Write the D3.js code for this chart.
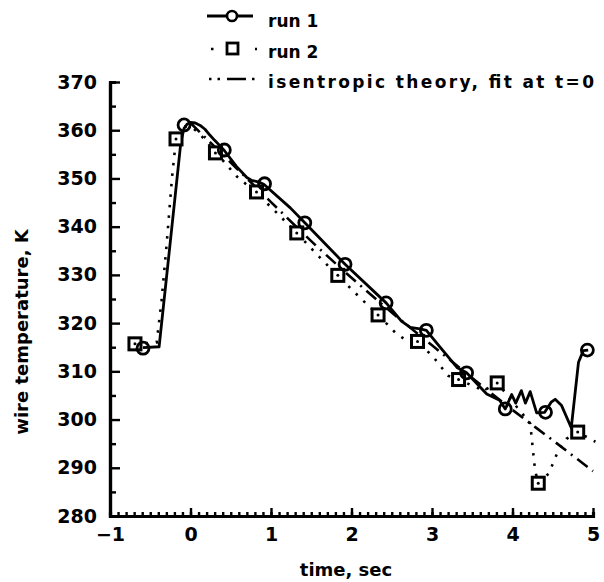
<!DOCTYPE html>
<html>
<head>
<meta charset="utf-8">
<script src="https://cdn.jsdelivr.net/npm/d3@7"></script>
<style>
  body { margin: 0; background: #fff; }
  svg { display: block; }
  text { font-family: "DejaVu Sans", sans-serif; font-weight: bold; fill: #000; }
</style>
</head>
<body>
<script>
// run 1: solid trace, circles every half second
var run1Line = [[-0.59,314.9],[-0.39,315.1],[-0.25,337],[-0.12,357.5],[-0.08,360.4],[-0.04,361.3],
  [0.0,361.6],[0.06,361.5],[0.12,361.0],[0.18,360.2],[0.24,359],[0.30,357.9],[0.37,356.7],
  [0.42,355.8],[0.57,352.5],[0.70,350.2],[0.76,349.6],[0.84,349.3],[0.91,348.8],[1.24,343.9],
  [1.42,340.8],[1.92,332.2],[2.43,324.2],[2.62,320.4],[2.73,319.1],[2.85,318.8],[2.93,318.5],
  [3.10,315],[3.31,310.8],[3.43,309.7],[3.60,306.7],[3.68,305.3],[3.84,304],[3.91,302.2],
  [3.99,305.2],[4.04,303.4],[4.11,306],[4.16,303.4],[4.22,305.8],[4.30,301.4],[4.40,301.5],
  [4.48,303.6],[4.53,304.2],[4.61,302.9],[4.73,298.3],[4.82,311.9],[4.88,314.3],[4.94,314.4]];
var run1Time = [-0.59,-0.08,0.42,0.92,1.42,1.92,2.43,2.93,3.43,3.91,4.41,4.93];
var run1Temp = [314.8,361.1,355.9,348.9,340.8,332.2,324.2,318.5,309.7,302.2,301.5,314.4];

// run 2: dotted trace, squares
var run2Line = [[-0.69,315.7],[-0.42,316],[-0.36,324.6],[-0.30,335.6],[-0.23,350.1],[-0.18,358.2],
  [-0.08,360.8],[0.0,360.8],[0.1,359.5],[0.31,355.5],[0.57,350.5],[0.82,347.0],[1.07,342.9],
  [1.32,338.7],[1.59,333.9],[1.82,330.0],[2.08,325.7],[2.33,321.7],[2.54,318.1],[2.68,316.4],
  [2.82,316.2],[3.02,312.9],[3.20,309.1],[3.33,308.3],[3.64,306],[3.81,307.6],[4.22,299.2],
  [4.28,289.5],[4.32,286.8],[4.45,288.8],[4.57,293.6],[4.67,296],[4.81,297.4],[5.03,295.4]];
var run2Time = [-0.69,-0.18,0.31,0.82,1.32,1.83,2.33,2.82,3.33,3.81,4.32,4.81];
var run2Temp = [315.7,358.2,355.3,347.2,338.7,329.9,321.7,316.2,308.3,307.6,286.8,297.4];

// isentropic theory, fit at t=0
var theoryTime = [0,0.5,1,1.5,2,2.5,3,3.5,4,4.5,5];
var theoryTemp = [361.5,353.3,345.1,337,329.4,322.2,315.4,308.6,302,295.7,289.3];

var xTicks = [-1,0,1,2,3,4,5];
var yTicks = [280,290,300,310,320,330,340,350,360,370];
var legendLabels = ["run 1", "run 2", "isentropic theory, fit at t=0"];

var width = 604, height = 582;
var svg = d3.select("body").append("svg")
    .attr("width", width)
    .attr("height", height);

var x = d3.scaleLinear().domain([-1, 5]).range([110, 593]);
var y = d3.scaleLinear().domain([280, 370]).range([516, 82]);

// y axis, ticks pointing inward
svg.append("g")
    .attr("transform", "translate(110,0)")
    .call(d3.axisLeft(y).tickValues(d3.range(285, 370, 10)).tickSize(-6).tickFormat(""));
var yAxis = svg.append("g")
    .attr("transform", "translate(110,0)")
    .call(d3.axisLeft(y).tickValues(yTicks).tickSizeInner(-10).tickSizeOuter(0).tickPadding(13));
yAxis.selectAll("text").style("font-size", "19px");

// x axis, ticks pointing up
svg.append("g")
    .attr("transform", "translate(0,516)")
    .call(d3.axisBottom(x).tickValues(d3.range(-10, 51).map(function(d) { return d / 10; }))
      .tickSize(-4).tickFormat(""));
var xAxis = svg.append("g")
    .attr("transform", "translate(0,516)")
    .call(d3.axisBottom(x).tickValues(xTicks).tickSizeInner(-8).tickSizeOuter(0).tickPadding(12)
      .tickFormat(function(d) { return d < 0 ? "\u2212" + Math.abs(d) : d; }));
xAxis.selectAll("text").style("font-size", "19px");

svg.selectAll(".domain").attr("stroke-width", 3.2);
svg.selectAll(".tick line").attr("stroke-width", 2.4);

// axis titles
svg.append("text")
    .attr("x", 346)
    .attr("y", 576)
    .attr("text-anchor", "middle")
    .style("font-size", "18px")
    .text("time, sec");
svg.append("text")
    .attr("transform", "translate(28,332) rotate(-90)")
    .attr("text-anchor", "middle")
    .style("font-size", "18px")
    .text("wire temperature, K");

// lines
var line = d3.line()
    .x(function(d) { return x(d[0]); })
    .y(function(d) { return y(d[1]); });

var theory = theoryTime.map(function(t, i) { return [t, theoryTemp[i]]; });

svg.append("path")
    .datum(theory)
    .attr("fill", "none")
    .attr("stroke", "#000")
    .attr("stroke-width", 2.6)
    .attr("stroke-dasharray", "13,6,2,6")
    .attr("d", line.curve(d3.curveMonotoneX));

svg.append("path")
    .datum(run2Line)
    .attr("fill", "none")
    .attr("stroke", "#000")
    .attr("stroke-width", 2.6)
    .attr("stroke-dasharray", "2.5,8")
    .attr("d", line.curve(d3.curveLinear));

svg.append("path")
    .datum(run1Line)
    .attr("fill", "none")
    .attr("stroke", "#000")
    .attr("stroke-width", 2.8)
    .attr("stroke-linejoin", "round")
    .attr("d", line.curve(d3.curveLinear));

// markers
var sq = 12;
svg.selectAll(".sq")
    .data(run2Time)
  .enter().append("rect")
    .attr("class", "sq")
    .attr("x", function(d) { return x(d) - sq / 2; })
    .attr("y", function(d, i) { return y(run2Temp[i]) - sq / 2; })
    .attr("width", sq)
    .attr("height", sq)
    .attr("fill", "#fff")
    .attr("stroke", "#000")
    .attr("stroke-width", 3);
svg.selectAll(".sqdot")
    .data(run2Time)
  .enter().append("circle")
    .attr("class", "sqdot")
    .attr("cx", function(d) { return x(d); })
    .attr("cy", function(d, i) { return y(run2Temp[i]); })
    .attr("r", 1.5)
    .attr("fill", "#000");

svg.selectAll(".circ")
    .data(run1Time)
  .enter().append("circle")
    .attr("class", "circ")
    .attr("cx", function(d) { return x(d); })
    .attr("cy", function(d, i) { return y(run1Temp[i]); })
    .attr("r", 6)
    .attr("fill", "none")
    .attr("stroke", "#000")
    .attr("stroke-width", 2.8);

// legend
var lg = svg.append("g");
var rowY = [27, 58, 88];
lg.selectAll("text")
    .data(legendLabels)
  .enter().append("text")
    .attr("x", 268)
    .attr("y", function(d, i) { return rowY[i]; })
    .style("font-size", "17px")
    .text(function(d) { return d; })
    .filter(function(d, i) { return i === 2; })
    .attr("textLength", 326)
    .attr("lengthAdjust", "spacing");

lg.append("line")
    .attr("x1", 207).attr("x2", 253)
    .attr("y1", 16).attr("y2", 16)
    .attr("stroke", "#000").attr("stroke-width", 2.8);
lg.append("circle")
    .attr("cx", 232).attr("cy", 16).attr("r", 5)
    .attr("fill", "#fff").attr("stroke", "#000").attr("stroke-width", 2.6);

lg.append("line")
    .attr("x1", 211).attr("x2", 257)
    .attr("y1", 49).attr("y2", 49)
    .attr("stroke", "#000").attr("stroke-width", 2.4)
    .attr("stroke-dasharray", "2.5,19.5");
lg.append("rect")
    .attr("x", 227).attr("y", 43).attr("width", 11).attr("height", 11)
    .attr("fill", "#fff").attr("stroke", "#000").attr("stroke-width", 2.8);

lg.append("line")
    .attr("x1", 209).attr("x2", 256)
    .attr("y1", 79).attr("y2", 79)
    .attr("stroke", "#000").attr("stroke-width", 2.6)
    .attr("stroke-dasharray", "2.5,6,2.5,7,19,6,2.5,10");
</script>
</body>
</html>
